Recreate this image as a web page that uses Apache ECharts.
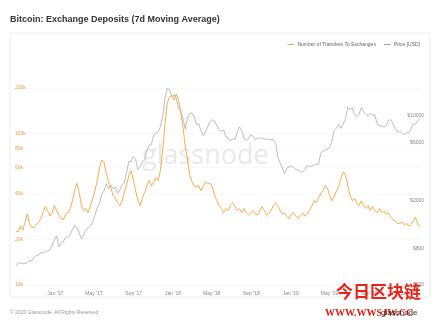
<!DOCTYPE html>
<html>
<head>
<meta charset="utf-8">
<script src="https://cdn.jsdelivr.net/npm/echarts@6/dist/echarts.min.js"></script>
<style>
  html, body { margin: 0; padding: 0; background: #fff; }
  #chart { width: 437px; height: 322px; }
</style>
</head>
<body>
<div id="chart"></div>
<script>
// Weekly samples starting 2016-09-01
const startDate = '2016-09-01';
const stepDays = 7;

// Number of transfers to exchanges (7d MA)
const deposits = [
  22500, 22500, 24500, 23000, 26000, 29500, 25500, 24000, 24000, 25000,
  26000, 27500, 30000, 33000, 31000, 28500, 30000, 33500, 31000, 29000,
  27500, 27000, 29500, 30000, 32000, 36000, 42000, 47000, 41000, 33500,
  31000, 32000, 30000, 33500, 37500, 42000, 49000, 59000, 67000, 65000,
  55000, 48000, 44000, 39000, 37500, 35000, 33500, 36000, 41000, 45500,
  53000, 57000, 49000, 42000, 36000, 33500, 37500, 41000, 45500, 49000,
  45000, 48000, 51000, 49000, 57000, 78000, 115000, 159000, 175000, 178000,
  167000, 183000, 167000, 137000, 110000, 82000, 67000, 53000, 48000, 45000,
  44500, 45000, 42000, 45000, 48000, 46500, 47000, 44500, 39000, 36000,
  33500, 32000, 30000, 32000, 31000, 33500, 35000, 33000, 31000, 32000,
  30000, 32000, 30000, 29000, 30000, 31000, 29500, 29000, 31000, 33000,
  31000, 29000, 29500, 31000, 33500, 35000, 33500, 31000, 29500, 30000,
  28500, 27500, 29500, 30000, 28500, 27500, 29000, 30000, 28500, 29500,
  31000, 33000, 36000, 35000, 37500, 40000, 42000, 45500, 43500, 39000,
  36000, 38500, 42000, 45000, 51000, 56000, 53000, 45500, 39000, 36000,
  37500, 34500, 33500, 36000, 33500, 32000, 33500, 31000, 33000, 31000,
  30000, 32000, 30000, 31000, 29500, 30000, 28000, 27000, 26500, 25500,
  25500, 26000, 25000, 25500, 24500, 25000, 26500, 28000, 25000, 24500
];

// Price [USD] (7d MA)
const price = [
  575, 610, 608, 598, 605, 612, 638, 632, 680, 700,
  712, 740, 735, 755, 770, 778, 850, 950, 1020, 830,
  890, 910, 990, 1000, 1040, 1150, 1250, 1190, 1080, 960,
  1040, 1150, 1180, 1230, 1330, 1520, 1750, 1900, 2250, 2400,
  2750, 2500, 2680, 2500, 2580, 2300, 2450, 2700, 2800, 3400,
  4200, 4200, 4600, 4400, 3600, 3800, 4200, 4400, 5200, 5700,
  5800, 7000, 7200, 7400, 8200, 10000, 14000, 17000, 16500, 14500,
  15000, 14000, 11500, 11200, 9500, 7800, 9800, 10400, 10600, 9800,
  8500, 8600, 7500, 6900, 7400, 8200, 9000, 9300, 9100, 8300,
  7700, 7500, 7650, 6700, 6600, 6200, 6500, 6400, 7300, 8100,
  7600, 6500, 6300, 6500, 7000, 6800, 6400, 6500, 6600, 6550,
  6400, 6450, 6400, 6350, 6400, 5900, 4600, 4100, 3700, 3350,
  3700, 3800, 3850, 3750, 3600, 3580, 3450, 3450, 3600, 3900,
  3820, 3850, 3900, 3990, 4000, 4900, 5100, 5250, 5300, 5600,
  6200, 7600, 7900, 8500, 7900, 8600, 9500, 11800, 11200, 11700,
  10200, 9900, 10300, 11700, 10800, 10300, 10000, 10500, 10200, 10200,
  8600, 8300, 8300, 8100, 8300, 9200, 9300, 8700, 7900, 7400,
  7400, 7300, 7000, 7300, 7200, 7800, 8600, 8600, 9100, 9500
];

// Axis tick values and labels
const depositTicks = [10000, 20000, 40000, 60000, 80000, 100000, 200000];
const priceTicks = [400, 800, 2000, 6000, 10000];
const monthTicks = ['2017-01-01', '2017-05-01', '2017-09-01', '2018-01-01', '2018-05-01',
  '2018-09-01', '2019-01-01', '2019-05-01', '2019-09-01', '2020-01-01'];
const monthNames = ['Jan', 'Feb', 'Mar', 'Apr', 'May', 'Jun', 'Jul', 'Aug', 'Sep', 'Oct', 'Nov', 'Dec'];

const DAY = 86400000;
const toTime = d => Date.parse(d + 'T00:00:00Z');
const t0 = toTime(startDate);
const dates = deposits.map((_, i) => t0 + i * stepDays * DAY);

const ORANGE = '#f5a33a';
const GREY = '#a0a0a0';
const FONT = 'Liberation Sans, Arial, sans-serif';

const chart = echarts.init(document.getElementById('chart'), null, { renderer: 'canvas' });

chart.setOption({
  animation: false,
  backgroundColor: '#fff',
  title: {
    text: 'Bitcoin: Exchange Deposits (7d Moving Average)',
    left: 5, top: 10,
    textStyle: { fontFamily: FONT, fontSize: 9, fontWeight: 'bold', color: '#333' }
  },
  legend: {
    right: 12, top: 37,
    itemWidth: 7, itemHeight: 1, itemGap: 8,
    icon: 'rect',
    textStyle: { fontFamily: FONT, fontSize: 5, color: '#666', padding: [0, 0, 0, -2] },
    data: ['Number of Transfers To Exchanges', 'Price [USD]']
  },
  grid: { left: 16, right: 17, top: 61.4, bottom: 37, containLabel: false },
  xAxis: {
    type: 'value',
    min: dates[0],
    max: dates[dates.length - 1],
    axisLine: { show: false },
    axisTick: { show: false, customValues: monthTicks.map(toTime) },
    splitLine: { show: false },
    axisLabel: {
      customValues: monthTicks.map(toTime),
      fontFamily: FONT, fontSize: 5, color: '#888', margin: 6,
      formatter: v => {
        const d = new Date(v);
        return monthNames[d.getUTCMonth()] + " '" + String(d.getUTCFullYear()).slice(2);
      }
    }
  },
  yAxis: [
    {
      type: 'log', logBase: 10,
      min: 10000, max: 300000,
      position: 'left',
      axisLine: { show: false },
      axisTick: { show: false, customValues: depositTicks },
      splitLine: { show: true, lineStyle: { color: '#f3f3f3', width: 0.5 } },
      axisLabel: {
        customValues: depositTicks,
        inside: true, margin: -1,
        fontFamily: FONT, fontSize: 5, color: '#e8a24a',
        formatter: v => (v / 1000) + 'k'
      }
    },
    {
      type: 'log', logBase: 10,
      min: 400, max: 28260,
      position: 'right',
      axisLine: { show: false },
      axisTick: { show: false, customValues: priceTicks },
      splitLine: { show: false },
      axisLabel: {
        customValues: priceTicks,
        inside: true, margin: -4,
        fontFamily: FONT, fontSize: 5, color: '#888',
        formatter: v => '$' + v
      }
    }
  ],
  series: [
    {
      name: 'Number of Transfers To Exchanges',
      type: 'line', yAxisIndex: 0,
      data: dates.map((t, i) => [t, deposits[i]]),
      showSymbol: false, symbol: 'none',
      lineStyle: { color: ORANGE, width: 0.9 },
      itemStyle: { color: ORANGE },
      z: 3
    },
    {
      name: 'Price [USD]',
      type: 'line', yAxisIndex: 1,
      data: dates.map((t, i) => [t, price[i]]),
      showSymbol: false, symbol: 'none',
      lineStyle: { color: GREY, width: 0.7 },
      itemStyle: { color: GREY },
      z: 2
    }
  ],
  graphic: [
    {
      type: 'rect', silent: true, z: -1,
      shape: { x: 10, y: 33, width: 420, height: 264 },
      style: { fill: 'none', stroke: '#ececec', lineWidth: 1 }
    },
    {
      type: 'text', silent: true, z: 1,
      left: 142, top: 143,
      style: { text: 'glassnode', fontFamily: 'Open Sans, sans-serif', fontSize: 27,
        fill: 'rgba(215,215,215,0.55)' }
    },
    {
      type: 'text', silent: true,
      left: 10, top: 310,
      style: { text: '\u00a9 2020 Glassnode. All Rights Reserved', fontFamily: FONT, fontSize: 5, fill: '#999' }
    },
    {
      type: 'text', silent: true, z: 100,
      left: 336, top: 283,
      style: { text: '今日区块链', fontFamily: 'Noto Sans CJK SC', fontWeight: 'bold', fontSize: 17,
        fill: '#e8231a' }
    },
    {
      type: 'text', silent: true, z: 100,
      left: 325, top: 308,
      style: { text: 'WWW.WWSJW.CC', fontFamily: 'Liberation Serif', fontWeight: 'bold', fontSize: 10,
        fill: '#d81e14' }
    },
    {
      type: 'text', silent: true, z: 101,
      left: 381, top: 309,
      style: { text: 'glassnode', fontFamily: FONT, fontSize: 8, fill: '#333' }
    }
  ]
});
</script>
</body>
</html>
